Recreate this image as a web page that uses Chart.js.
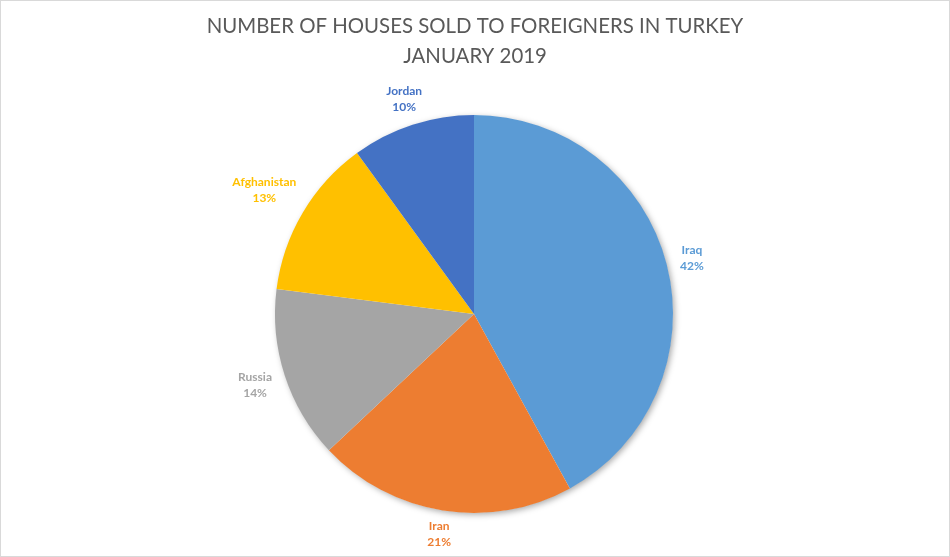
<!DOCTYPE html>
<html>
<head>
<meta charset="utf-8">
<script src="https://cdn.jsdelivr.net/npm/chart.js@4"></script>
<style>
  html, body { margin: 0; padding: 0; background: #fff; }
  #wrap { width: 950px; height: 557px; position: relative; }
</style>
</head>
<body>
<div id="wrap"><canvas id="housesPie"></canvas></div>
<script>
const countries = ["Iraq", "Iran", "Russia", "Afghanistan", "Jordan"];
const shares = [42, 21, 14, 13, 10];
const sliceColors = ["#5B9BD5", "#ED7D31", "#A5A5A5", "#FFC000", "#4472C4"];
const titleLines = ["NUMBER OF HOUSES SOLD TO FOREIGNERS IN TURKEY", "JANUARY 2019"];

// soft shadow under the whole pie, like Excel's default
const pieShadow = {
  id: "pieShadow",
  beforeDatasetsDraw(chart) {
    const arc = chart.getDatasetMeta(0).data[0];
    if (!arc) return;
    const ctx = chart.ctx;
    ctx.save();
    ctx.shadowColor = "rgba(0,0,0,0.35)";
    ctx.shadowBlur = 6;
    ctx.shadowOffsetX = 2;
    ctx.shadowOffsetY = 2;
    ctx.fillStyle = "#ffffff";
    ctx.beginPath();
    ctx.arc(arc.x, arc.y, arc.outerRadius - 0.5, 0, Math.PI * 2);
    ctx.fill();
    ctx.restore();
  },
};

// category + percent labels outside each slice
const outsideLabels = {
  id: "outsideLabels",
  afterDatasetsDraw(chart) {
    const ctx = chart.ctx;
    const meta = chart.getDatasetMeta(0);
    const data = chart.data.datasets[0].data;
    const total = data.reduce((a, b) => a + b, 0);
    ctx.save();
    ctx.font = "bold 12px Lato, 'Liberation Sans', sans-serif";
    ctx.textAlign = "center";
    ctx.textBaseline = "middle";
    meta.data.forEach((arc, i) => {
      const mid = (arc.startAngle + arc.endAngle) / 2;
      const dx = Math.cos(mid), dy = Math.sin(mid);
      const pct = Math.round((data[i] / total) * 100) + "%";
      const w = Math.max(ctx.measureText(chart.data.labels[i]).width, ctx.measureText(pct).width);
      const halfW = w / 2, halfH = 10;
      const r = arc.outerRadius + 12 + Math.abs(dx) * halfW + Math.abs(dy) * halfH;
      const cx = arc.x + dx * r, cy = arc.y + dy * r;
      ctx.fillStyle = sliceColors[i];
      ctx.fillText(chart.data.labels[i], cx, cy - 8);
      ctx.fillText(pct, cx, cy + 8);
    });
    ctx.restore();
  },
};

// two-line title drawn across the full width, plus the outer frame
const titleAndFrame = {
  id: "titleAndFrame",
  afterDraw(chart) {
    const ctx = chart.ctx;
    ctx.save();
    ctx.fillStyle = "#595959";
    ctx.font = "20.4px Lato, 'Liberation Sans', sans-serif";
    ctx.textAlign = "center";
    ctx.textBaseline = "middle";
    titleLines.forEach((line, i) => ctx.fillText(line, 475, 26 + i * 30));
    ctx.strokeStyle = "#D9D9D9";
    ctx.lineWidth = 1;
    ctx.strokeRect(0.5, 0.5, chart.width - 1, chart.height - 1);
    ctx.restore();
  },
};

const housesPie = document.getElementById("housesPie").getContext("2d");
new Chart(housesPie, {
  type: "pie",
  data: {
    labels: countries,
    datasets: [
      {
        data: shares,
        backgroundColor: sliceColors,
        borderWidth: 0,
        hoverOffset: 0,
        offset: 0,
      },
    ],
  },
  options: {
    responsive: true,
    maintainAspectRatio: false,
    animation: false,
    layout: { padding: { left: 275, right: 277, top: 115, bottom: 44 } },
    plugins: {
      legend: { display: false },
      title: { display: false },
      tooltip: {
        callbacks: { label: (c) => c.label + ": " + c.parsed + "%" },
      },
    },
  },
  plugins: [pieShadow, outsideLabels, titleAndFrame],
});
</script>
</body>
</html>
